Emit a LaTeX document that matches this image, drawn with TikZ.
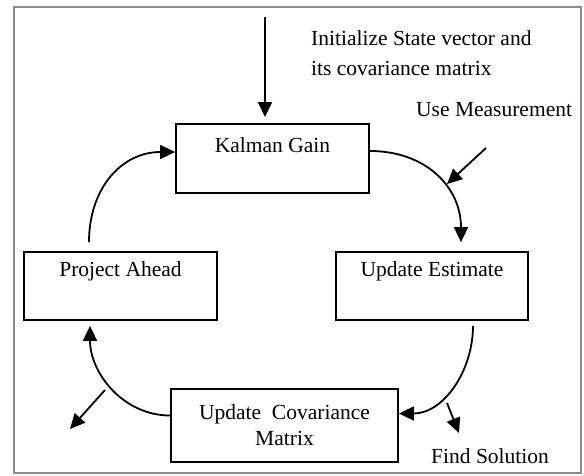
\documentclass[tikz,border=0pt]{standalone}
\usepackage{fontspec}
\setmainfont{Liberation Serif}
\usetikzlibrary{arrows.meta,calc}
\begin{document}
\begin{tikzpicture}[x=1pt,y=1pt,
  every node/.style={font=\fontsize{21.5}{27}\selectfont, inner sep=0pt},
  stagebox/.style={draw, line width=1.8pt, rectangle, inner sep=0pt},
  flow/.style={line width=1.8pt, -{Triangle[length=15pt,width=14pt]}},
  label text/.style={anchor=center}]
  % canvas and gray frame
  \useasboundingbox (0,0) rectangle (584,-475);
  \draw[line width=1.8pt, gray!90] (14,-7) rectangle (581,-473);

  % stage boxes
  \node[stagebox, minimum width=193pt, minimum height=69pt] (kg) at (272.5,-158.5) {};
  \node[stagebox, minimum width=193pt, minimum height=68pt] (pa) at (120.5,-286) {};
  \node[stagebox, minimum width=192pt, minimum height=68pt] (ue) at (432,-286) {};
  \node[stagebox, minimum width=227pt, minimum height=73pt] (uc) at (284.5,-425.5) {};

  % box captions
  \node[label text] (kgt) at (272.5,-145) {Kalman Gain};
  \node[label text] (pat) at (120.5,-271) {Project Ahead};
  \node[label text] (uet) at (432,-271) {Update Estimate};
  \node[label text, align=center] (uct) at (284.5,-425) {Update\ \ Covariance\\[-1pt]Matrix};

  % free texts
  \node[anchor=west, align=left] (init) at (311,-53) {Initialize State vector and\\[3pt]its covariance matrix};
  \node[anchor=west] (meas) at (416,-110) {Use Measurement};
  \node[anchor=west] (sol) at (431,-456) {Find Solution};

  % free arrow ends
  \coordinate (initS) at (265,-17);
  \coordinate (initE) at (265,-117);
  \coordinate (measS) at (486,-148);
  \coordinate (measE) at (447,-184);
  \coordinate (outS) at (105,-390);
  \coordinate (outE) at (70,-429);
  \coordinate (solS) at (447,-403);
  \coordinate (solE) at (459,-433);

  % straight arrows
  \draw[flow] (initS) -- (initE);
  \draw[flow] (measS) -- (measE);
  \draw[flow] (outS) -- (outE);
  \draw[flow] (solS) -- (solE);

  % the loop
  \draw[flow] ($(kg.east)+(0,7.5)$) to[out=0,in=90,looseness=1.1] ($(ue.north)+(29,9)$);
  \draw[flow] ($(ue.south)+(41,-5)$) to[out=-90,in=0] ($(uc.east)+(0,12)$);
  \draw[flow] ($(uc.west)+(0,10)$) to[out=180,in=-90] ($(pa.south)+(-30.5,-5)$);
  \draw[flow] ($(pa.north)+(-31.5,9)$) to[out=90,in=180,looseness=1.1] ($(kg.west)+(0,6.5)$);
\end{tikzpicture}
\end{document}
